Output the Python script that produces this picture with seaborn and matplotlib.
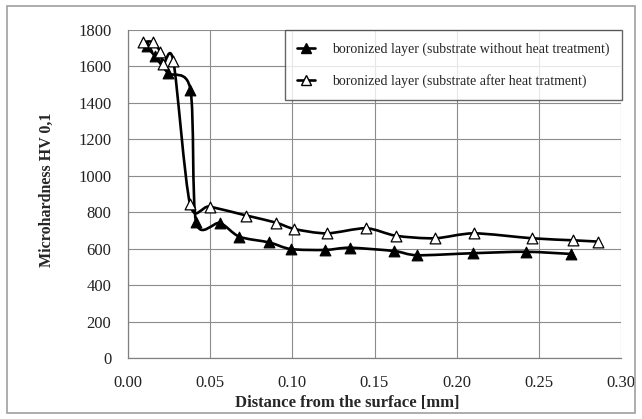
import matplotlib
matplotlib.use("Agg")
import matplotlib.pyplot as plt
import numpy as np
import pandas as pd
import seaborn as sns
from matplotlib.path import Path
from matplotlib.patches import PathPatch, Rectangle
from matplotlib.lines import Line2D

# boronized layer, substrate without heat treatment (filled triangles)
depth_raw = [0.0114, 0.0164, 0.0245, 0.0380, 0.0414, 0.0560, 0.0677, 0.0860, 0.0990,
             0.1198, 0.1350, 0.1620, 0.1760, 0.2097, 0.2419, 0.2695]
hv_raw = [1711, 1656, 1564, 1473, 748, 741, 666, 634, 598,
          593, 605, 587, 564, 575, 583, 571]

# boronized layer, substrate after heat treatment (open triangles)
depth_ht = [0.0093, 0.0150, 0.0195, 0.0215, 0.0276, 0.0377, 0.0497, 0.0720, 0.0900,
            0.1012, 0.1210, 0.1448, 0.1630, 0.1867, 0.2105, 0.2459, 0.2705, 0.2857]
hv_ht = [1734, 1734, 1682, 1612, 1630, 847, 831, 782, 743,
         708, 684, 712, 671, 657, 684, 657, 646, 639]

label_raw = "boronized layer (substrate without heat treatment)"
label_ht = "boronized layer (substrate after heat tratment)"

x_ticks = [0.00, 0.05, 0.10, 0.15, 0.20, 0.25, 0.30]
y_ticks = list(range(0, 1801, 200))


def smooth_path(xs, ys, k=6.0):
    """Excel-like smoothed line: cubic Bezier segments through every point."""
    p = np.column_stack([xs, ys]).astype(float)
    n = len(p)
    verts = [p[0]]
    codes = [Path.MOVETO]
    for i in range(n - 1):
        p0 = p[i - 1] if i > 0 else p[i]
        p3 = p[i + 2] if i + 2 < n else p[i + 1]
        c1 = p[i] + (p[i + 1] - p0) / k
        c2 = p[i + 1] - (p3 - p[i]) / k
        verts += [c1, c2, p[i + 1]]
        codes += [Path.CURVE4] * 3
    return Path(verts, codes)


sns.set_style("white")
plt.rcParams["font.family"] = ["Liberation Serif", "DejaVu Serif"]

fig = plt.figure(figsize=(6.42, 4.19), dpi=100)
ax = fig.add_axes([128 / 642, 1 - 358 / 419, (621 - 128) / 642, (358 - 30) / 419])

df_raw = pd.DataFrame({"depth": depth_raw, "hv": hv_raw})
df_ht = pd.DataFrame({"depth": depth_ht, "hv": hv_ht})

for df in (df_raw, df_ht):
    ax.add_patch(PathPatch(smooth_path(df["depth"], df["hv"], k=7.0), facecolor="none",
                           edgecolor="black", linewidth=1.9, zorder=3))

sns.scatterplot(data=df_raw, x="depth", y="hv", marker="^", s=60, color="black",
                edgecolor="black", linewidth=0.8, ax=ax, zorder=4)
sns.scatterplot(data=df_ht, x="depth", y="hv", marker="^", s=60, color="white",
                edgecolor="black", linewidth=0.9, ax=ax, zorder=4)

ax.set_xlim(0, 0.30)
ax.set_ylim(0, 1800)
ax.set_xticks(x_ticks)
ax.set_xticklabels([f"{t:.2f}" for t in x_ticks])
ax.set_yticks(y_ticks)
ax.grid(True, color="#8c8c8c", linewidth=0.8)
ax.set_axisbelow(True)
for side in ("top", "right"):
    ax.spines[side].set_visible(False)
for side in ("left", "bottom"):
    ax.spines[side].set_color("#808080")
    ax.spines[side].set_linewidth(0.9)
ax.tick_params(axis="both", direction="out", length=4, width=0.8, color="#808080",
               labelsize=12, colors="#222222")
ax.tick_params(axis="x", pad=8)
ax.tick_params(axis="y", pad=8)

ax.set_xlabel("Distance from the surface [mm]", fontsize=12, fontweight="bold")
ax.set_ylabel("Microhardness HV 0,1", fontsize=11.5, fontweight="bold")
ax.xaxis.set_label_coords(0.444, -0.113)
ax.yaxis.set_label_coords(-0.148, 0.512)

handles = [
    Line2D([], [], color="black", lw=1.9, marker="^", ms=7, mfc="black", mec="black"),
    Line2D([], [], color="black", lw=1.9, marker="^", ms=7, mfc="white", mec="black"),
]
leg = ax.legend(handles, [label_raw, label_ht], loc="upper right", bbox_to_anchor=(1.002, 1.0),
                frameon=True, fancybox=False, fontsize=10, handlelength=1.3, handletextpad=1.2,
                labelspacing=1.3, borderpad=0.9, borderaxespad=0)
leg.get_frame().set_edgecolor("#404040")
leg.get_frame().set_linewidth(1.0)

fig.patches.append(Rectangle((7 / 642, 6 / 419), 628 / 642, 407 / 419, transform=fig.transFigure,
                             fill=False, edgecolor="#a0a0a0", linewidth=1.2))

fig.savefig("out.png", dpi=100)
